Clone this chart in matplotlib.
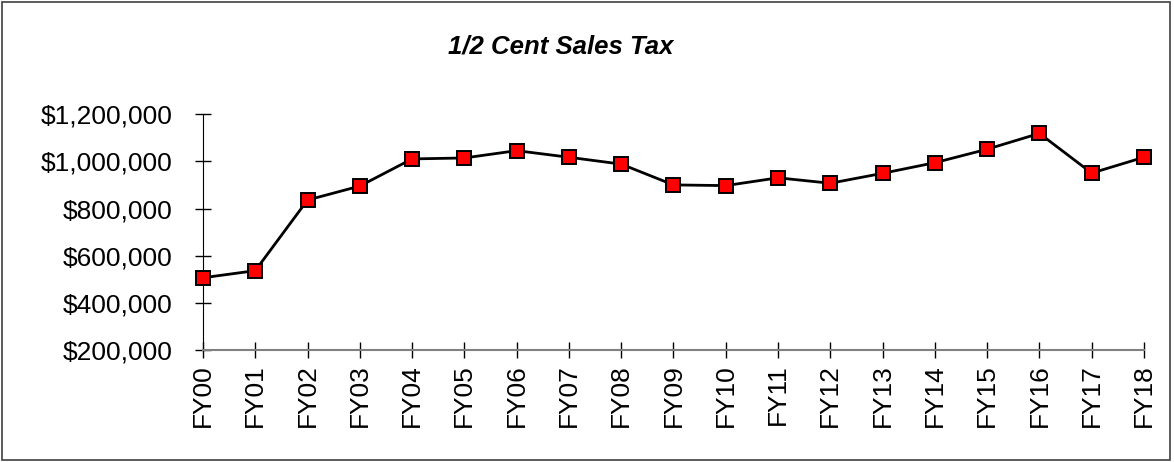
import matplotlib.pyplot as plt
from matplotlib.patches import Rectangle
from matplotlib.ticker import FuncFormatter

plt.rcParams['font.family'] = ['Liberation Sans', 'DejaVu Sans']

years = ['FY00', 'FY01', 'FY02', 'FY03', 'FY04', 'FY05', 'FY06', 'FY07', 'FY08', 'FY09',
         'FY10', 'FY11', 'FY12', 'FY13', 'FY14', 'FY15', 'FY16', 'FY17', 'FY18']
sales_tax = [507000, 537000, 836000, 895000, 1010000, 1014000, 1045000, 1017000, 988000, 900000,
             897000, 930000, 907000, 949000, 994000, 1051000, 1118000, 950000, 1017000]
y_ticks = [200000, 400000, 600000, 800000, 1000000, 1200000]

fig = plt.figure(figsize=(11.74, 4.62), dpi=100)
ax = fig.add_axes([0.1729, 0.2418, 0.8015, 0.5114])

x = list(range(len(years)))
ax.plot(x, sales_tax, color='black', linewidth=2, marker='s', markersize=10.5,
        markerfacecolor='#ff0000', markeredgecolor='black', markeredgewidth=1.4,
        clip_on=False, zorder=3)

ax.set_xlim(0, len(years) - 1)
ax.set_ylim(200000, 1200000)
ax.set_xticks(x)
ax.set_xticklabels(years, rotation=90)
ax.set_yticks(y_ticks)
ax.yaxis.set_major_formatter(FuncFormatter(lambda v, p: '${:,.0f}'.format(v)))

ax.spines['top'].set_visible(False)
ax.spines['right'].set_visible(False)
ax.spines['left'].set_color('black')
ax.spines['bottom'].set_color('#808080')
ax.spines['bottom'].set_linewidth(1.5)
ax.tick_params(axis='both', direction='inout', length=12, width=1, labelsize=19, colors='black')
ax.tick_params(axis='y', pad=16)
ax.tick_params(axis='x', pad=4)

fig.text(0.478, 0.9, '1/2 Cent Sales Tax', ha='center', va='center',
         fontsize=18.5, fontweight='bold', fontstyle='italic')

# border around the chart
fig.patches.append(Rectangle((0.002, 0.004), 0.995, 0.991, transform=fig.transFigure,
                             fill=False, edgecolor='#404040', linewidth=1.2))

fig.savefig('out.png', dpi=100)
